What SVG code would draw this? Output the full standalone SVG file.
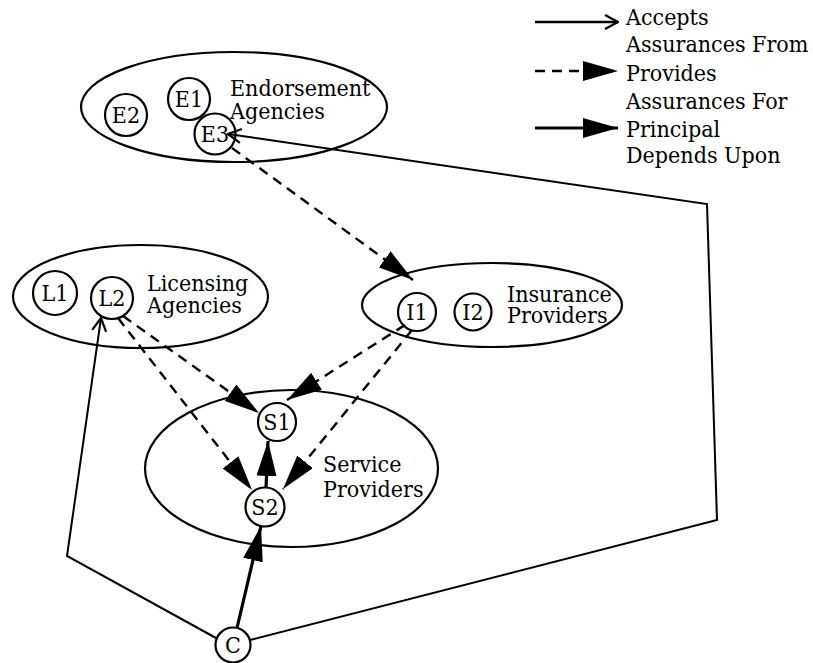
<svg xmlns="http://www.w3.org/2000/svg" width="813" height="663" viewBox="0 0 813 663">
<style>
text{font-family:'DejaVu Serif Condensed','DejaVu Serif',serif;font-stretch:condensed;font-size:23px;fill:#000}
.node text{text-anchor:middle}
.grp{fill:none;stroke:#000;stroke-width:2.2}
.nd{fill:#fff;stroke:#000;stroke-width:2.2}
.acc{fill:none;stroke:#000;stroke-width:2}
.prov{fill:none;stroke:#000;stroke-width:2.4;stroke-dasharray:10 7}
.dep{fill:none;stroke:#000;stroke-width:3.2}
</style>
<defs>
<marker id="open" markerUnits="userSpaceOnUse" markerWidth="16" markerHeight="18" viewBox="-1 -1 16 18" refX="14" refY="8" orient="auto"><path d="M1,1 L14,8 L1,15" fill="none" stroke="#000" stroke-width="2.2"/></marker>
<marker id="fill" markerUnits="userSpaceOnUse" markerWidth="36" markerHeight="20" viewBox="0 0 36 20" refX="35" refY="10" orient="auto"><path d="M0,0 L35,10 L0,20 z" fill="#000"/></marker>
</defs>
<g id="legend">
<path class="acc" d="M535,22 L618,22" marker-end="url(#open)" style="stroke-width:2.6"/>
<path class="prov" d="M535,71 L618,71" marker-end="url(#fill)" style="stroke-width:2.6"/>
<path class="dep" d="M535,128 L618,128" marker-end="url(#fill)"/>
<text x="626" y="25">Accepts</text>
<text x="626" y="52">Assurances From</text>
<text x="626" y="81">Provides</text>
<text x="626" y="109">Assurances For</text>
<text x="626" y="137">Principal</text>
<text x="626" y="163">Depends Upon</text>
</g>
<g id="endorsement-agencies">
<ellipse class="grp" cx="234" cy="107" rx="153" ry="55"/>
<text x="230" y="96">Endorsement</text>
<text x="230" y="119">Agencies</text>
</g>
<g id="licensing-agencies">
<ellipse class="grp" cx="140.5" cy="296.5" rx="127.5" ry="51.5"/>
<text x="147" y="291">Licensing</text>
<text x="147" y="313">Agencies</text>
</g>
<g id="insurance-providers">
<ellipse class="grp" cx="492" cy="305" rx="130" ry="42"/>
<text x="507" y="302">Insurance</text>
<text x="507" y="323">Providers</text>
</g>
<g id="service-providers">
<ellipse class="grp" cx="291.5" cy="468.5" rx="146.5" ry="78.5"/>
<text x="323" y="472">Service</text>
<text x="323" y="497">Providers</text>
</g>
<g id="connectors">
<path class="acc" d="M216,638 L67,556 L101,318" marker-end="url(#open)"/>
<path class="acc" d="M250,640 L717,520 L707,204 L228,134" marker-end="url(#open)"/>
<path class="dep" d="M237,628 L261,526" marker-end="url(#fill)"/>
<path class="dep" d="M266,488 L268,441" marker-end="url(#fill)"/>
<path class="prov" d="M232,148 L413,280" marker-end="url(#fill)"/>
<path class="prov" d="M123,316 L259,413" marker-end="url(#fill)"/>
<path class="prov" d="M118,318 L252,490" marker-end="url(#fill)"/>
<path class="prov" d="M405,325 L287,400" marker-end="url(#fill)"/>
<path class="prov" d="M412,330 L283,489" marker-end="url(#fill)"/>
</g>
<g id="E2" class="node"><circle class="nd" cx="126" cy="115" r="21"/><text x="126" y="123">E2</text></g>
<g id="E1" class="node"><circle class="nd" cx="189" cy="99" r="21"/><text x="189" y="107">E1</text></g>
<g id="E3" class="node"><circle class="nd" cx="215" cy="134" r="20.5" style="fill:none"/><text x="215" y="142">E3</text></g>
<g id="L1" class="node"><circle class="nd" cx="55" cy="293" r="22"/><text x="55" y="301">L1</text></g>
<g id="L2" class="node"><circle class="nd" cx="112" cy="298" r="21" style="fill:none"/><text x="112" y="306">L2</text></g>
<g id="I1" class="node"><circle class="nd" cx="417" cy="312" r="19" style="fill:none"/><text x="417" y="320">I1</text></g>
<g id="I2" class="node"><circle class="nd" cx="473" cy="312" r="18.5"/><text x="473" y="320">I2</text></g>
<g id="S1" class="node"><circle class="nd" cx="277" cy="422" r="19" style="fill:none"/><text x="277" y="430">S1</text></g>
<g id="S2" class="node"><circle class="nd" cx="265" cy="507" r="19.5" style="fill:none"/><text x="265" y="515">S2</text></g>
<g id="C" class="node"><circle class="nd" cx="233" cy="645" r="17.5"/><text x="233" y="653">C</text></g>
</svg>
